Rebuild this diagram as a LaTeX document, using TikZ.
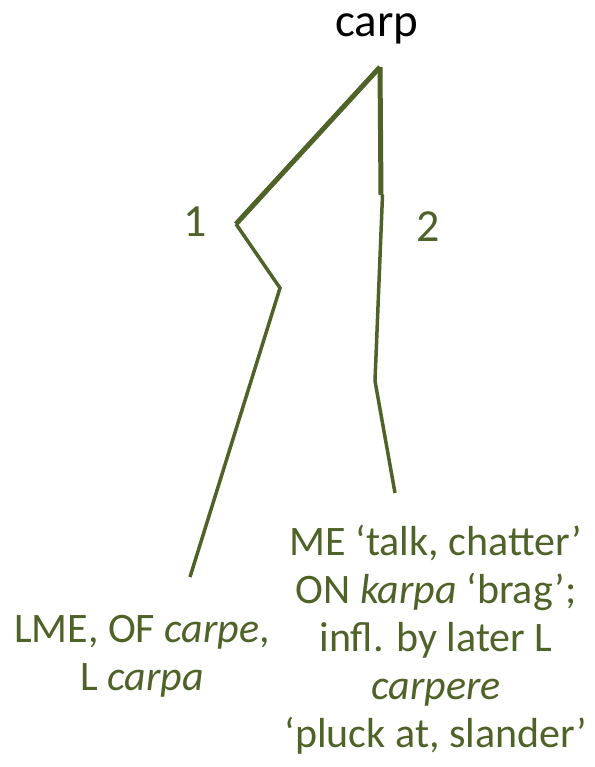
\documentclass[tikz,border=0pt]{standalone}
\usepackage{fontspec}
\setmainfont{Carlito}
\usetikzlibrary{positioning}
\definecolor{etymgreen}{RGB}{79,98,40}
\tikzstyle{headword} = [inner sep=0pt, text=black, font=\fontsize{47}{56}\selectfont]
\tikzstyle{sense}    = [inner sep=0pt, text=etymgreen, font=\fontsize{46}{55}\selectfont]
\tikzstyle{source}   = [inner sep=0pt, align=center, text=etymgreen, font=\fontsize{42}{48}\selectfont]
\tikzstyle{branch}   = [draw=etymgreen, line width=3.5pt, line join=miter]
\tikzstyle{trunk}    = [branch, line width=5pt]

\begin{document}
\begin{tikzpicture}[x=1pt, y=-1pt]
  \useasboundingbox (0,0) rectangle (594,767);

  % headword and sense numbers
  \node[headword, anchor=base] (carp) at (377,37) {carp};
  \node[sense] (sense_1) at (195,222) {1};
  \node[sense] (sense_2) at (428,227) {2};

  \node[source, anchor=base] (src_1) at (142,690) {LME, OF \textit{carpe},\\L \textit{carpa}};
  \node[source, anchor=base] (src_2) at (436,747) {ME ‘talk, chatter’\\ON \textit{karpa} ‘brag’;\\infl. by later L\\\textit{carpere}\\‘pluck at, slander’};

  \coordinate (fork) at (380,67);
  \coordinate (bend_1a) at (236,224);
  \coordinate (bend_1b) at (280,288);
  \coordinate (end_1) at (190,577);
  \coordinate (bend_2a) at (381,195);
  \coordinate (bend_2b) at (375,381);
  \coordinate (end_2) at (395,493);

  \draw[trunk] (fork) -- (bend_1a);
  \draw[branch] (bend_1a) -- (bend_1b) -- (end_1);
  \draw[trunk] (fork) -- (bend_2a);
  \draw[branch] ([xshift=1.5pt]bend_2a) -- (bend_2b) -- (end_2);
\end{tikzpicture}
\end{document}
